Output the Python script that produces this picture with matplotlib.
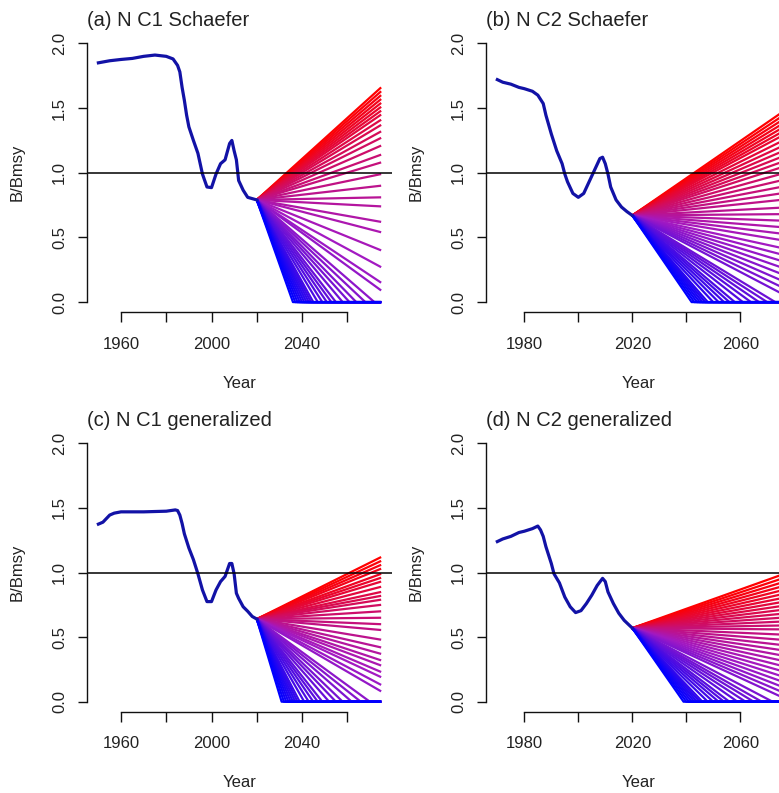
import matplotlib
matplotlib.use("Agg")
import matplotlib.pyplot as plt

plt.rcParams['font.family'] = ['Liberation Sans', 'DejaVu Sans']

# --- historical B/Bmsy ---
a_years = [1950, 1955, 1960, 1965, 1970, 1975, 1980, 1983, 1985, 1986, 1987, 1988,
           1989, 1990, 1992, 1994, 1996, 1998, 2000, 2002, 2004, 2006, 2008, 2009,
           2010, 2011, 2012, 2014, 2016, 2018, 2020]
a_bbmsy = [1.85, 1.866, 1.876, 1.884, 1.90, 1.91, 1.90, 1.88, 1.83, 1.78, 1.66, 1.56,
           1.445, 1.355, 1.25, 1.15, 0.99, 0.89, 0.885, 0.99, 1.07, 1.10, 1.226, 1.25,
           1.17, 1.10, 0.94, 0.865, 0.81, 0.80, 0.79]

b_years = [1970, 1972, 1975, 1978, 1980, 1983, 1985, 1987, 1988, 1990, 1992, 1994,
           1995, 1996, 1998, 2000, 2002, 2004, 2006, 2008, 2009, 2010, 2011, 2012,
           2014, 2016, 2018, 2020]
b_bbmsy = [1.72, 1.70, 1.685, 1.66, 1.65, 1.63, 1.60, 1.535, 1.445, 1.30, 1.17, 1.07,
           0.99, 0.93, 0.84, 0.81, 0.84, 0.93, 1.02, 1.11, 1.12, 1.07, 0.99, 0.89,
           0.79, 0.735, 0.70, 0.67]

c_years = [1950, 1952, 1955, 1957, 1960, 1970, 1980, 1984, 1985, 1986, 1987, 1988,
           1990, 1992, 1994, 1996, 1998, 2000, 2002, 2004, 2006, 2008, 2009, 2010,
           2011, 2012, 2014, 2016, 2018, 2020]
c_bbmsy = [1.375, 1.39, 1.445, 1.46, 1.47, 1.47, 1.475, 1.485, 1.48, 1.445, 1.38, 1.30,
           1.19, 1.10, 0.99, 0.865, 0.775, 0.775, 0.865, 0.93, 0.97, 1.07, 1.07, 0.99,
           0.84, 0.80, 0.735, 0.70, 0.66, 0.64]

d_years = [1970, 1972, 1975, 1978, 1980, 1983, 1985, 1986, 1987, 1988, 1990, 1991,
           1993, 1995, 1997, 1999, 2001, 2003, 2005, 2007, 2009, 2010, 2011, 2013,
           2015, 2017, 2020]
d_bbmsy = [1.24, 1.26, 1.28, 1.31, 1.32, 1.34, 1.36, 1.33, 1.28, 1.20, 1.07, 0.99,
           0.92, 0.81, 0.735, 0.69, 0.705, 0.76, 0.825, 0.90, 0.955, 0.93, 0.85, 0.76,
           0.685, 0.63, 0.57]

# --- projections: B/Bmsy in the last year for runs that survive (top -> bottom),
# and the year B hits zero for runs that collapse (late -> early)
proj_end_year = 2075
a_fan_end = [1.66, 1.63, 1.60, 1.57, 1.54, 1.51, 1.48, 1.45, 1.41, 1.37, 1.32, 1.27,
             1.21, 1.14, 1.08, 0.99, 0.90, 0.81, 0.74, 0.62, 0.54, 0.40, 0.27, 0.15, 0.09]
a_fan_zero = [2072, 2068, 2064, 2061, 2058, 2055, 2053, 2051, 2049, 2047, 2045, 2044,
              2043, 2042, 2041, 2040, 2039, 2038, 2037, 2036]

b_fan_end = [1.46, 1.43, 1.40, 1.37, 1.34, 1.31, 1.28, 1.24, 1.20, 1.16, 1.12, 1.08,
             1.04, 0.99, 0.94, 0.89, 0.84, 0.79, 0.73, 0.68, 0.63, 0.58, 0.53, 0.48,
             0.42, 0.37, 0.32, 0.27, 0.22, 0.17, 0.12, 0.07]
b_fan_zero = [2073, 2070, 2067, 2064, 2061, 2058, 2056, 2054, 2052, 2050, 2048, 2047,
              2046, 2045, 2044, 2043, 2042]

c_fan_end = [1.12, 1.09, 1.06, 1.03, 0.99, 0.96, 0.93, 0.89, 0.85, 0.82, 0.79, 0.75,
             0.70, 0.65, 0.60, 0.555, 0.48, 0.42, 0.37, 0.32, 0.28, 0.23, 0.19, 0.13, 0.08]
c_fan_zero = [2070, 2066, 2062, 2058, 2055, 2052, 2049, 2047, 2045, 2043, 2041, 2039,
              2038, 2037, 2036, 2035, 2034, 2033, 2032, 2031]

d_fan_end = [0.98, 0.95, 0.92, 0.89, 0.86, 0.83, 0.80, 0.77, 0.74, 0.71, 0.68, 0.65,
             0.62, 0.59, 0.56, 0.52, 0.48, 0.44, 0.40, 0.36, 0.32, 0.28, 0.24, 0.20,
             0.16, 0.12, 0.08, 0.04]
d_fan_zero = [2072, 2068, 2065, 2062, 2059, 2056, 2054, 2052, 2050, 2048, 2046, 2045,
              2044, 2043, 2042, 2041, 2040, 2039]

titles = ['(a) N C1 Schaefer', '(b) N C2 Schaefer',
          '(c) N C1 generalized', '(d) N C2 generalized']

left_ticks = [1960, 1980, 2000, 2020, 2040, 2060]
left_labels = ['1960', '', '2000', '', '2040', '']
right_ticks = [1980, 2000, 2020, 2040, 2060]
right_labels = ['1980', '', '2020', '', '2060']
y_ticks = [0.0, 0.5, 1.0, 1.5, 2.0]
y_labels = ['0.0', '0.5', '1.0', '1.5', '2.0']

TXT = '#222222'
HIST_COL = '#1212a6'
# colour ramp for the projection runs: blue -> purple -> red
RAMP = [(0.0, 0.0, 1.0), (0.64, 0.1, 0.76), (1.0, 0.0, 0.0)]


def ramp(f):
    if f <= 0.5:
        lo, hi, t = RAMP[0], RAMP[1], f * 2
    else:
        lo, hi, t = RAMP[1], RAMP[2], f * 2 - 1
    return tuple(l + (h - l) * t for l, h in zip(lo, hi))


def draw_panel(ax, title, years, bbmsy, fan_end, fan_zero, xlim, ticks, labels):
    y0 = bbmsy[-1]
    x0 = years[-1]
    n = len(fan_end) + len(fan_zero)
    # top lines red, bottom lines blue; blue drawn last
    k = 0
    for v in fan_end:
        ax.plot([x0, proj_end_year], [y0, v], color=ramp(1 - k / (n - 1)), lw=1.6,
                solid_capstyle='butt')
        k += 1
    for zy in fan_zero:
        ax.plot([x0, zy, proj_end_year], [y0, 0, 0], color=ramp(1 - k / (n - 1)),
                lw=1.6, solid_capstyle='butt')
        k += 1
    ax.plot(years, bbmsy, color=HIST_COL, lw=2.3)
    ax.axhline(1.0, color='black', lw=1.1)

    ax.set_xlim(*xlim)
    ax.set_ylim(-0.08, 2.08)
    for s in ['top', 'right']:
        ax.spines[s].set_visible(False)
    ax.spines['left'].set_bounds(0, 2)
    ax.spines['bottom'].set_bounds(ticks[0], ticks[-1])
    for s in ['left', 'bottom']:
        ax.spines[s].set_linewidth(1.0)
        ax.spines[s].set_color('#111111')
    ax.set_xticks(ticks)
    ax.set_xticklabels(labels)
    ax.set_yticks(y_ticks)
    ax.set_yticklabels(y_labels, rotation=90, va='center')
    ax.tick_params(axis='x', direction='out', length=7, width=1.0, pad=10.5,
                   labelsize=12, labelcolor=TXT, color='#111111')
    ax.tick_params(axis='y', direction='out', length=6.5, width=1.0, pad=8,
                   labelsize=12, labelcolor=TXT, color='#111111')

    ax.text(0.0, 1.045, title, transform=ax.transAxes, ha='left', va='center',
            fontsize=14.5, color=TXT)
    ax.text(0.5, -0.254, 'Year', transform=ax.transAxes, ha='center', va='center',
            fontsize=12, color=TXT)
    ax.text(-0.2295, 0.5, 'B/Bmsy', transform=ax.transAxes, ha='center', va='center',
            rotation=90, fontsize=12, color=TXT)


fig = plt.figure(figsize=(7.79, 7.93), dpi=100)
ax_a = fig.add_axes([0.1118, 0.606, 0.392, 0.3523])
ax_b = fig.add_axes([0.6239, 0.606, 0.3928, 0.3523])
ax_c = fig.add_axes([0.1118, 0.1021, 0.392, 0.3518])
ax_d = fig.add_axes([0.6239, 0.1021, 0.3928, 0.3518])

draw_panel(ax_a, titles[0], a_years, a_bbmsy, a_fan_end, a_fan_zero,
           (1945, 2080), left_ticks, left_labels)
draw_panel(ax_b, titles[1], b_years, b_bbmsy, b_fan_end, b_fan_zero,
           (1965.8, 2079.2), right_ticks, right_labels)
draw_panel(ax_c, titles[2], c_years, c_bbmsy, c_fan_end, c_fan_zero,
           (1945, 2080), left_ticks, left_labels)
draw_panel(ax_d, titles[3], d_years, d_bbmsy, d_fan_end, d_fan_zero,
           (1965.8, 2079.2), right_ticks, right_labels)

fig.savefig('out.png', dpi=100)
